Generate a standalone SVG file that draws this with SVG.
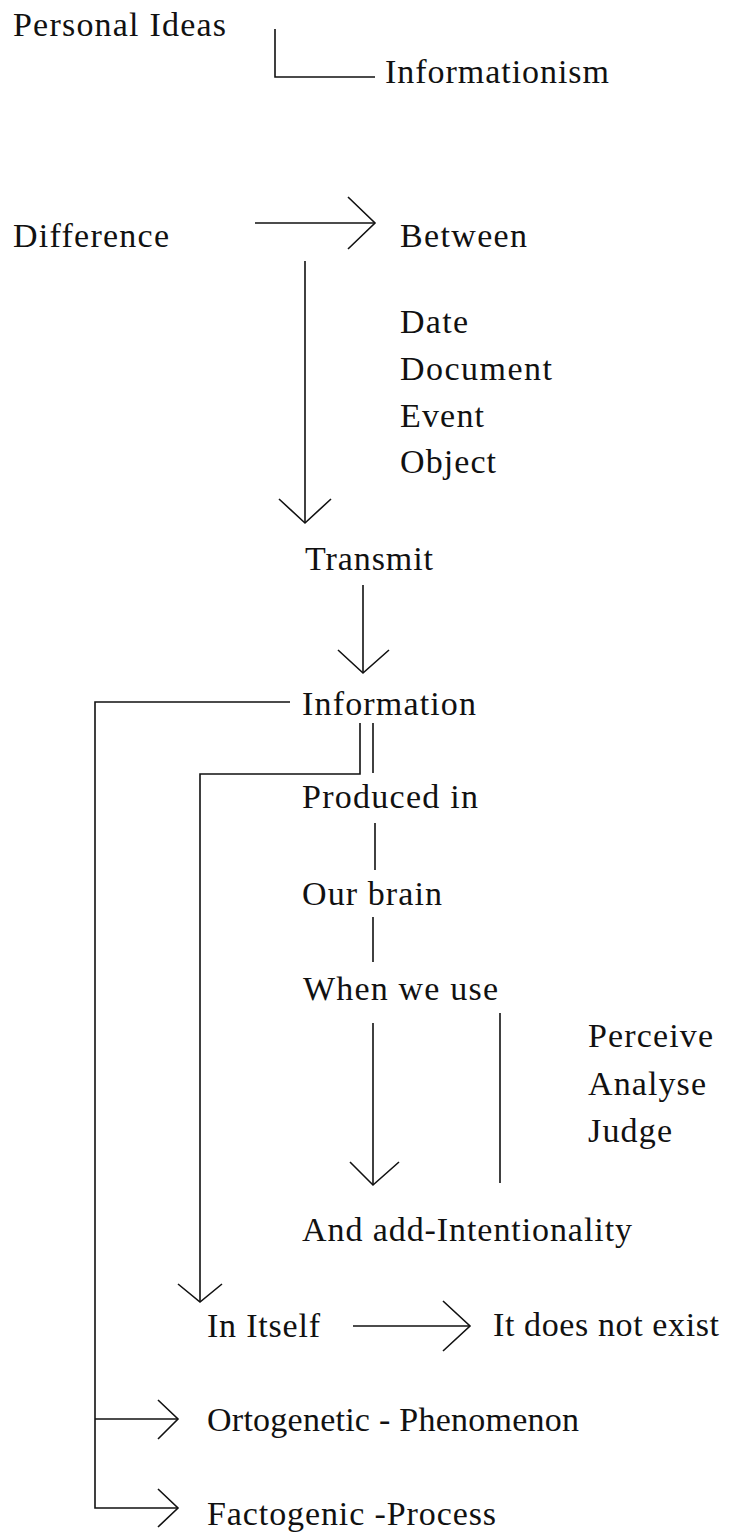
<svg xmlns="http://www.w3.org/2000/svg" width="733" height="1534" viewBox="0 0 733 1534">
<style>
text{font-family:"Liberation Serif","Times New Roman",serif;font-size:34px;fill:#111}
.c path,.c line{stroke:#111;stroke-width:1.6;fill:none}
</style>
<rect width="733" height="1534" fill="#fff"/>
<g class="c" id="connectors">
<path d="M275 29V77H375"/>
<line x1="255" y1="223" x2="375" y2="223"/>
<path d="M348 197L375 223L348 249"/>
<line x1="305" y1="261" x2="305" y2="523"/>
<path d="M279 499L305 523L331 499"/>
<line x1="363" y1="585" x2="363" y2="673"/>
<path d="M338 650L363 673L389 650"/>
<path d="M290 702H95V1508H178"/>
<path d="M360 723V774H200V1302"/>
<path d="M178 1284L200 1302L222 1284"/>
<line x1="373" y1="723" x2="373" y2="773"/>
<line x1="375" y1="823" x2="375" y2="870"/>
<line x1="373" y1="917" x2="373" y2="962"/>
<line x1="373" y1="1023" x2="373" y2="1185"/>
<path d="M350 1162L373 1185L399 1162"/>
<line x1="500" y1="1013" x2="500" y2="1183"/>
<line x1="353" y1="1326" x2="470" y2="1326"/>
<path d="M443 1301L470 1326L443 1351"/>
<line x1="95" y1="1419" x2="178" y2="1419"/>
<path d="M158 1400L178 1419L158 1439"/>
<path d="M158 1489L178 1508L158 1527"/>
</g>
<g id="n-personal"><text x="13" y="36" textLength="213">Personal Ideas</text></g>
<g id="n-informationism"><text x="385" y="83" textLength="224">Informationism</text></g>
<g id="n-difference"><text x="13" y="247" textLength="156">Difference</text></g>
<g id="n-between"><text x="400" y="247" textLength="127">Between</text></g>
<g id="n-list">
<text x="400" y="333" textLength="68">Date</text>
<text x="400" y="380" textLength="152">Document</text>
<text x="400" y="427" textLength="84">Event</text>
<text x="400" y="473" textLength="96">Object</text>
</g>
<g id="n-transmit"><text x="305" y="570" textLength="128">Transmit</text></g>
<g id="n-information"><text x="302" y="715" textLength="174">Information</text></g>
<g id="n-produced"><text x="302" y="808" textLength="176">Produced in</text></g>
<g id="n-brain"><text x="302" y="905" textLength="140">Our brain</text></g>
<g id="n-when"><text x="303" y="1000" textLength="195">When we use</text></g>
<g id="n-faculties">
<text x="588" y="1047" textLength="125">Perceive</text>
<text x="588" y="1095" textLength="118">Analyse</text>
<text x="588" y="1142" textLength="84">Judge</text>
</g>
<g id="n-intentionality"><text x="302" y="1241" textLength="330">And add-Intentionality</text></g>
<g id="n-initself"><text x="207" y="1337" textLength="113">In Itself</text></g>
<g id="n-notexist"><text x="493" y="1336" textLength="226">It does not exist</text></g>
<g id="n-ortogenetic"><text x="207" y="1431" textLength="372">Ortogenetic - Phenomenon</text></g>
<g id="n-factogenic"><text x="207" y="1525" textLength="289">Factogenic -Process</text></g>
</svg>
